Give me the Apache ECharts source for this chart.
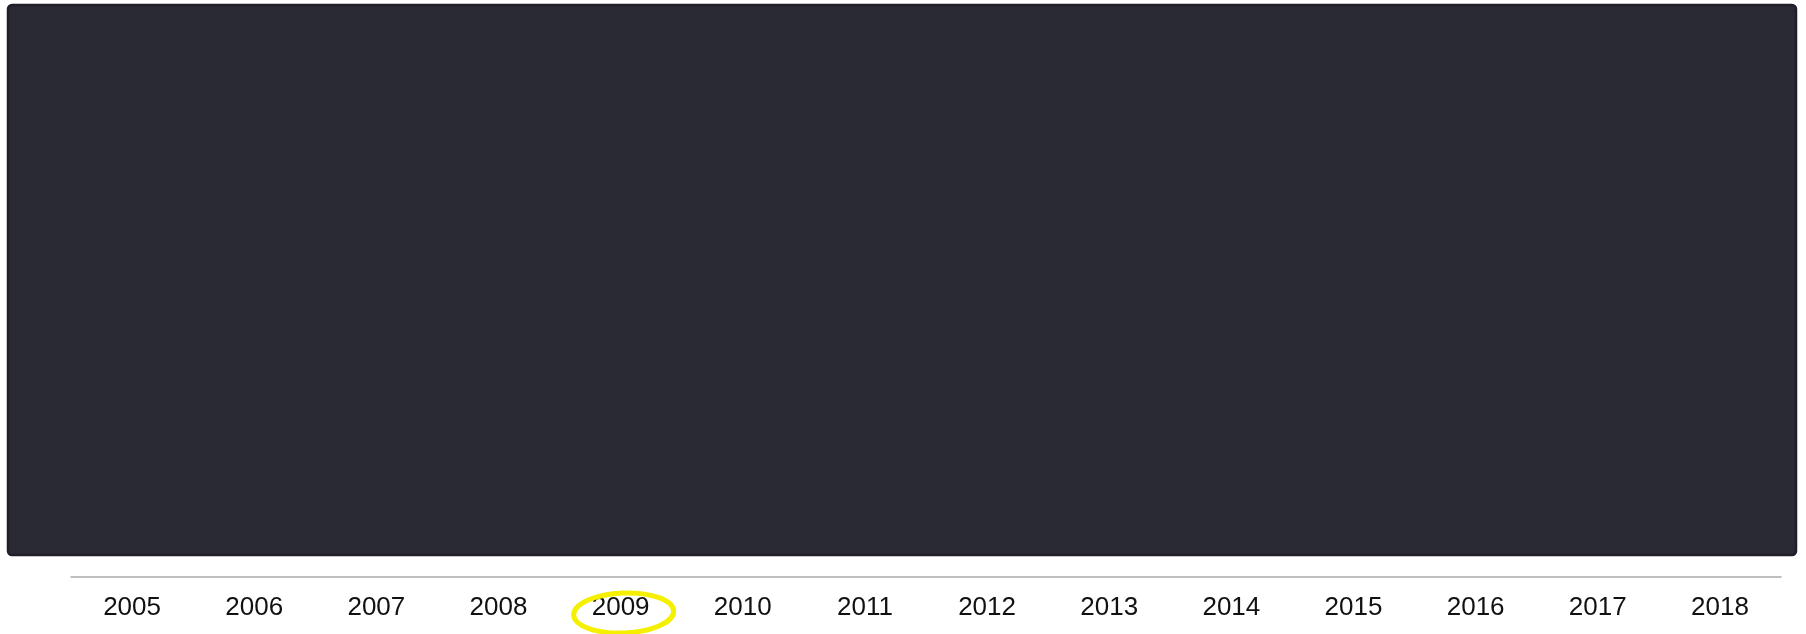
<!DOCTYPE html>
<html>
<head>
<meta charset="utf-8">
<script src="https://cdn.jsdelivr.net/npm/echarts@6/dist/echarts.min.js"></script>
<style>
html,body{margin:0;padding:0;background:#fff;}
#main{width:1806px;height:634px;}
</style>
</head>
<body>
<div id="main"></div>
<script>
var years = ['2005','2006','2007','2008','2009','2010','2011','2012','2013','2014','2015','2016','2017','2018'];
var highlightedYear = '2009';

var chart = echarts.init(document.getElementById('main'), null, {renderer:'canvas'});
var panel = {
  type: 'rect',
  z: -10,
  shape: { x: 8, y: 5, width: 1788, height: 550, r: 4 },
  style: { fill: '#2a2a35', stroke: '#1f1f27', lineWidth: 2.5 }
};
var option = {
  backgroundColor: '#ffffff',
  animation: false,
  grid: { left: 71, right: 25, top: 4, bottom: 57 },
  xAxis: {
    type: 'category',
    data: years,
    boundaryGap: true,
    axisLine: { show: true, lineStyle: { color: '#aaaaaa', width: 1.5 } },
    axisTick: { show: false },
    splitLine: { show: false },
    axisLabel: {
      color: '#111111',
      fontSize: 26,
      fontFamily: 'Liberation Sans, Arial, sans-serif',
      margin: 18
    }
  },
  yAxis: { type: 'value', show: false, min: 0, max: 1 },
  series: [],
  graphic: [panel]
};
chart.setOption(option);

var px = chart.convertToPixel({ xAxisIndex: 0 }, highlightedYear);
chart.setOption({
  graphic: [
    panel,
    {
      type: 'ellipse',
      z: 100,
      x: px + 3,
      y: 613,
      rotation: 0.04,
      shape: { cx: 0, cy: 0, rx: 50, ry: 20 },
      style: { fill: 'none', stroke: '#f4f000', lineWidth: 5 }
    }
  ]
});
</script>
</body>
</html>
